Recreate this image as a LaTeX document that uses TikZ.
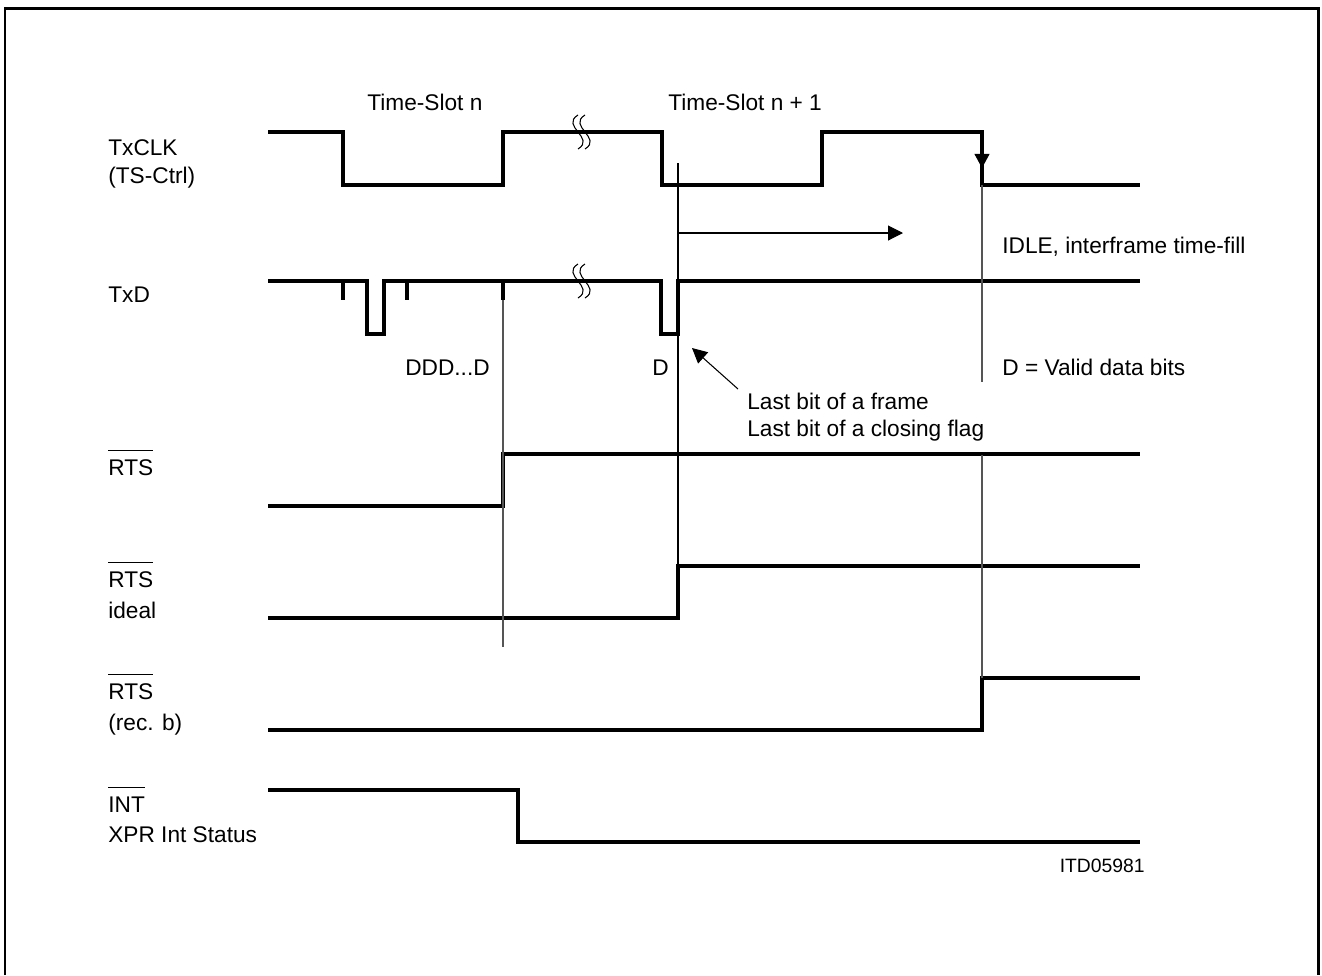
\documentclass[tikz,border=0pt]{standalone}
\usepackage{fontspec}
\setmainfont{Liberation Sans}
\usepackage{xcolor}
\usepackage{tikz}
\usetikzlibrary{arrows.meta}
\definecolor{guidegray}{HTML}{555555}
\newcommand{\lowact}[1]{\setbox0\hbox{#1}\rlap{\rule[13.9pt]{\wd0}{0.6pt}}\box0}

\begin{document}
\begin{tikzpicture}[>={Triangle[length=8.5pt,width=8.5pt]}, x=0.02cm, y=-0.02cm,
    sig/.style={line width=2.3pt, line join=miter},
    guide/.style={line width=0.6pt},
    lbl/.style={anchor=base west, inner sep=0pt, font=\fontsize{12.9}{17}\selectfont}]
  \useasboundingbox (0,0) rectangle (1322,975);
  \draw[line width=1.7pt] (5,975) -- (5,8) -- (1318,8) -- (1318,975);
  % signal names
  \node[lbl] (txclk) at (108,155) {TxCLK};
  \node[lbl] (tsctrl) at (108,183) {(TS-Ctrl)};
  \node[lbl] (txd) at (108,302) {TxD};
  \node[lbl] (rts) at (108,475) {\lowact{RTS}};
  \node[lbl] (rtsid) at (108,587) {\lowact{RTS}};
  \node[lbl] (ideal) at (108,618) {ideal};
  \node[lbl] (rtsrb) at (108,699) {\lowact{RTS}};
  \node[lbl] (recb) at (108,730) {(rec. b)};
  \node[lbl] (int) at (108,812) {\lowact{INT}};
  \node[lbl] (xpr) at (108,842) {XPR Int Status};
  % waveforms
  \draw[sig] (268,132) -| (343,185) -| (503,132) -| (662,185) -| (822,132) -| (982,185) -- (1140,185);
  \draw[sig] (268,281) -| (367,334) -| (384,281) -| (661,334) -| (678,281) -- (1140,281);
  \foreach \x in {343,407,503}
    \draw[sig] (\x,281) -- (\x,300);
  \draw[sig] (268,506) -| (503,454) -- (1140,454);
  \draw[sig] (268,618) -| (678,566) -- (1140,566);
  \draw[sig] (268,730) -| (982,678) -- (1140,678);
  \draw[sig] (268,790) -| (518,842) -- (1140,842);
  % breaks
  \foreach \y in {132,281}
    \foreach \x in {578,585}
      \draw[line width=0.6pt] (\x,\y-17) .. controls (\x-18,\y-6) and (\x+18,\y+6) .. (\x,\y+17);
  % guide lines
  \draw[guide, guidegray] (503,300) -- (503,647);
  \draw[guide] (678,163) -- (678,566);
  \draw[guide, guidegray] (982,185) -- (982,382);
  \draw[guide, guidegray] (982,455) -- (982,678);
  \draw[guide, -{Triangle[length=8pt,width=8.5pt]}] (982,140) -- (982,168);
  \coordinate (idlefrom) at (678,233);
  \coordinate (idleto) at (903,233);
  \draw[guide, ->] (idlefrom) -- (idleto);
  \coordinate (lastbit) at (692,348);
  \coordinate (lastfrom) at (738,389);
  \draw[guide, ->] (lastfrom) -- (lastbit);
  % texts
  \node[lbl] (slotn) at (367,110) {Time-Slot n};
  \node[lbl] (slotnext) at (668,110) {Time-Slot n + 1};
  \node[lbl] (idle) at (1002,253) {IDLE, interframe time-fill};
  \node[lbl] (ddd) at (405,375) {DDD...D};
  \node[lbl] (dlast) at (652,375) {D};
  \node[lbl] (valid) at (1002,375) {D = Valid data bits};
  \node[lbl] (frame) at (747,409) {Last bit of a frame};
  \node[lbl] (flag) at (747,436) {Last bit of a closing flag};
  \node[anchor=base east, inner sep=0pt, font=\fontsize{11}{13}\selectfont] (itd) at (1145,872) {ITD05981};
\end{tikzpicture}
\end{document}
